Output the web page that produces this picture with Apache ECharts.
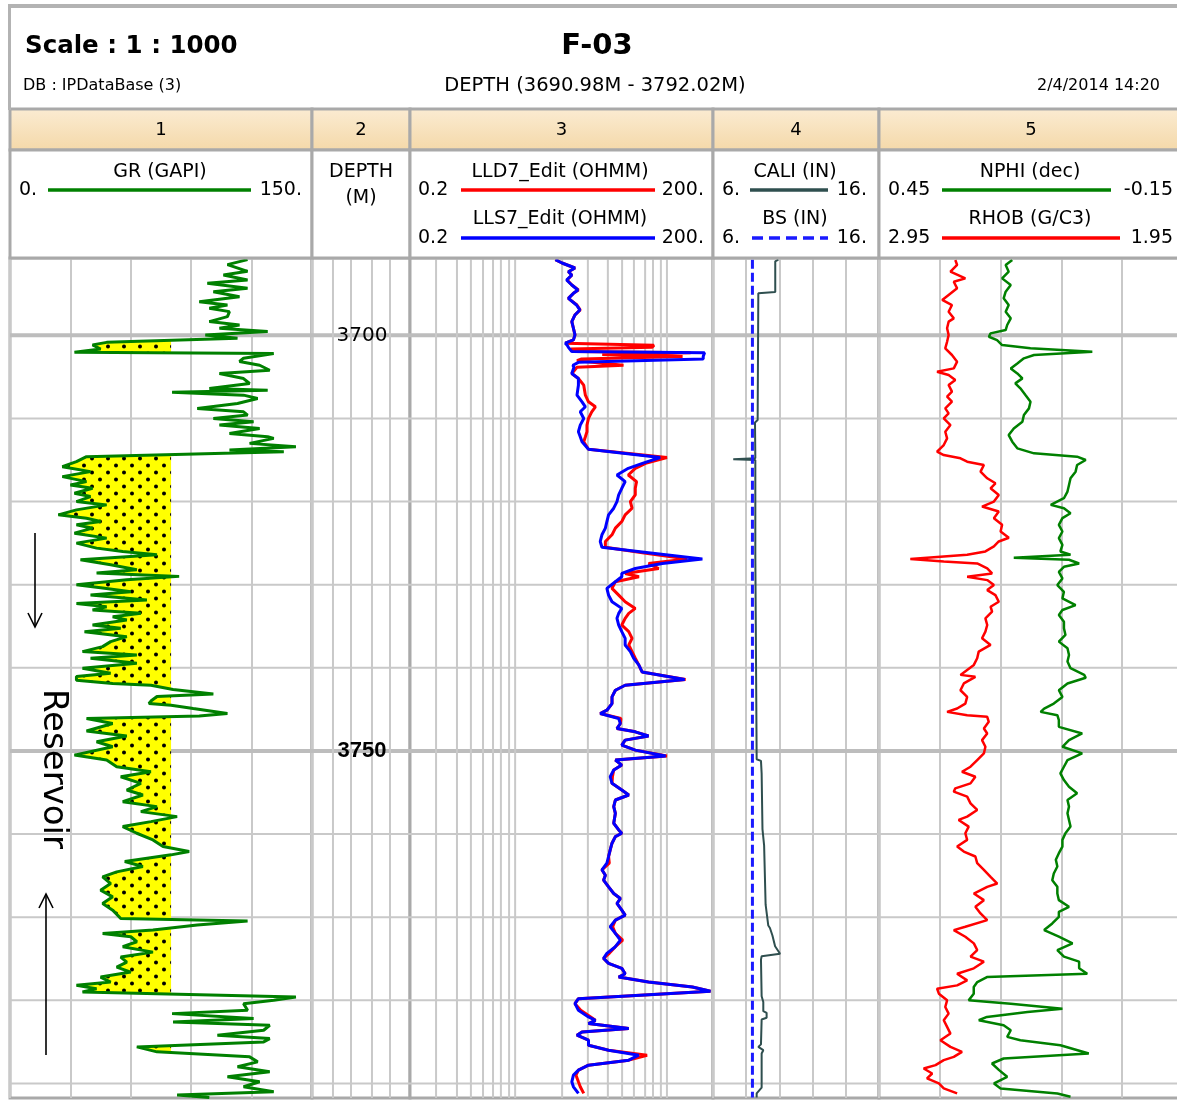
<!DOCTYPE html>
<html>
<head>
<meta charset="utf-8">
<title>F-03</title>
<script src="https://cdn.jsdelivr.net/npm/echarts@6.0.0/dist/echarts.min.js"></script>
<style>
  html, body { margin: 0; padding: 0; background: #fff; }
  #chart { width: 1177px; height: 1100px; }
</style>
</head>
<body>
<div id="chart"></div>
<script>
'use strict';

// ---- depth axis (m) ----
var depthTop = 3690.7;
var depthBottom = 3791.75;
var depthGrid = [3700, 3710, 3720, 3730, 3740, 3750, 3760, 3770, 3780, 3790];
var depthMajor = [3700, 3750];
var depthLabels = [3700, 3750];

// ---- track 1 : GR (GAPI), [depth, value] ----
var grCutoff = 80;
var grLog = [
  [3690.9,118],[3691.5,108],[3692.3,118],[3692.75,106],[3693.35,118],[3693.75,98],[3694.35,118],[3694.75,101],
  [3695.35,114],[3695.95,94],[3696.35,108],[3696.75,99],[3697.15,109],[3697.75,108],[3698.35,99],[3698.75,114],
  [3699.15,104],[3699.55,128],[3699.95,97],[3700.35,113],[3700.85,48],[3701.15,41],[3701.65,45],[3702.05,32],
  [3702.2,131],[3702.75,116],[3703.15,114],[3703.6,124],[3704.2,129],[3704.6,104],[3705.2,116],[3705.8,119],
  [3706.4,99],[3706.6,128],[3706.85,80.5],[3707.2,116],[3707.6,123],[3708.2,113],[3708.8,93],[3709.2,116],
  [3709.6,118],[3710.0,101],[3710.4,121],[3710.8,104],[3711.2,124],[3711.8,109],[3712.2,128],[3712.4,131],
  [3713.0,119],[3713.4,142],[3713.8,109],[3714.0,136],[3714.6,38],[3715.2,33],[3715.8,26],[3716.4,40],
  [3717.0,26],[3717.6,38],[3718.0,30],[3718.4,41],[3719.0,32],[3719.4,40],[3720.0,33],[3720.4,48],
  [3721.0,33],[3721.6,24],[3722.0,38],[3722.4,45],[3722.8,33],[3723.2,41],[3723.8,32],[3724.4,48],
  [3725.0,33],[3725.6,43],[3726.0,56],[3726.4,73],[3727.0,35],[3727.6,50],[3728.2,63],[3728.6,43],
  [3729.0,84],[3729.4,58],[3730.0,33],[3730.4,46],[3730.85,60],[3731.25,40],[3731.85,68],[3732.25,33],
  [3732.65,48],[3733.05,41],[3733.45,65],[3733.85,51],[3734.25,58],[3734.85,41],[3735.25,55],[3735.65,37],
  [3736.25,58],[3736.85,50],[3737.45,46],[3738.05,36],[3738.45,63],[3738.85,40],[3739.45,63],[3740.05,36],
  [3740.65,50],[3741.05,33],[3741.5,33],[3741.9,51],[3742.1,70],[3742.6,81],[3743.15,101],[3743.45,73],
  [3744.0,70],[3744.3,69],[3744.5,80],[3744.9,91],[3745.5,108],[3745.8,94],[3746.1,38],[3746.7,51],
  [3747.6,38],[3748.2,58],[3748.9,43],[3749.5,51],[3750.5,32],[3751.1,48],[3751.9,53],[3752.5,70],
  [3753.1,55],[3753.9,65],[3754.7,58],[3755.3,66],[3756.1,56],[3756.7,73],[3757.3,65],[3757.9,83],
  [3758.5,70],[3759.1,56],[3759.9,63],[3760.7,71],[3761.5,76],[3762.1,89],[3762.5,80],[3763.3,57],
  [3763.9,66],[3764.55,53],[3765.15,46],[3765.95,50],[3766.75,45],[3767.55,51],[3768.35,46],[3769.15,51],
  [3770.15,55],[3770.45,118],[3770.95,93],[3771.55,71],[3771.95,46],[3772.35,60],[3772.95,63],[3773.55,56],
  [3774.2,71],[3774.8,55],[3775.4,58],[3776.0,53],[3776.6,60],[3777.2,45],[3777.8,50],[3778.2,33],
  [3778.6,43],[3779.0,36],[3779.6,142],[3780.0,131],[3780.4,116],[3781.2,118],[3781.6,80.5],[3782.2,121],
  [3782.6,81],[3783.0,129],[3783.6,126],[3784.2,103],[3784.6,129],[3785.0,126],[3785.6,63],[3786.2,73],
  [3786.8,119],[3787.4,123],[3788.0,113],[3788.6,129],[3789.2,108],[3789.8,124],[3790.4,116],[3791.0,131],
  [3791.4,83],[3791.7,99]
];

// ---- track 3 : LLD7_Edit / LLS7_Edit (OHMM), [depth, lld, lls] ----
var resLog = [
  [3690.9,5.5,5.5],[3691.3,6.4,6.4],[3691.9,8.6,8.6],[3692.35,7.4,7.4],[3692.75,8.0,8.0],[3693.35,7.2,7.1],
  [3693.95,8.0,8.0],[3694.55,9.3,9.2],[3694.95,8.3,8.3],[3695.55,7.4,7.4],[3696.35,9.0,8.9],[3696.95,9.7,9.6],
  [3697.55,8.6,8.6],[3698.35,8.0,8.0],[3699.15,8.3,8.3],[3699.95,8.6,8.6],[3700.55,8.3,8.3],[3700.95,6.9,6.9],
  [3701.2,52,7.2],[3701.45,50,7.4],[3701.65,7.8,7.6],[3701.95,8.5,8.0],[3702.1,120,165],[3702.3,16,160],
  [3702.55,100,160],[3702.85,10,160],[3703.05,9.0,160],[3703.25,9.2,9.3],[3703.6,26,8.2],[3703.85,9.0,8.4],
  [3704.0,8.6,8.6],[3704.6,8.0,8.0],[3705.2,9.3,9.3],[3706.0,10.5,9.3],[3707.2,10.9,9.0],[3708.0,11.7,10.1],
  [3708.6,13.7,10.9],[3709.2,12.6,9.7],[3710.0,11.7,10.5],[3710.8,11.3,9.7],[3711.6,11.3,9.3],[3712.2,10.9,9.7],
  [3712.8,10.5,10.1],[3713.7,11.7,11.7],[3714.7,70,60],[3715.4,43,40],[3716.0,34,29],[3716.8,29,22.4],
  [3717.6,35,27],[3718.4,34,25],[3719.2,34,23.3],[3720.0,30.4,22.4],[3720.8,31.6,20.8],[3721.6,27,18.5],
  [3722.4,25,17.8],[3723.2,21.6,17.2],[3724.0,20,15.9],[3724.8,17.2,15.3],[3725.5,17.2,15.9],[3726.15,40,46],
  [3726.9,111,157],[3727.45,46,63],[3728.05,58,34],[3728.65,27,25],[3729.05,37,25],[3729.65,21.6,21.6],
  [3730.45,20,17.8],[3731.25,23.3,18.5],[3732.05,27,20],[3732.85,34,25],[3733.45,29.3,23.3],[3734.05,27,22.4],
  [3734.85,25,23.3],[3735.65,29.3,25],[3736.45,31.6,27],[3737.25,29.3,27],[3738.05,31.6,30.4],[3738.85,34,32.8],
  [3739.65,36.8,36.8],[3740.5,39.7,39.7],[3741.4,107,105],[3742.1,27,27],[3742.7,21.6,21.6],[3743.5,20,20],
  [3744.3,20,20],[3745.1,17.8,17.8],[3745.5,15.3,15.3],[3746.1,24.5,23.3],[3746.7,24.2,24.2],[3747.3,22.4,22.4],
  [3747.7,34,34],[3748.2,46,46],[3748.7,27,27],[3749.3,25,25],[3749.9,34,34],[3750.6,70,68],
  [3751.1,21.6,21.6],[3751.7,25,25],[3752.3,20.8,20.8],[3753.1,20.2,19.2],[3753.9,20,20],[3754.7,25,25],
  [3755.3,29.3,29.3],[3755.9,21.6,21.6],[3756.7,20.8,20.8],[3757.5,21.6,21.6],[3758.7,20.8,20.8],[3759.5,23.3,23.3],
  [3759.9,25,25],[3760.3,21.6,21.6],[3761.1,20,20],[3761.9,19.2,19.2],[3762.7,18.5,18.5],[3763.5,18.8,17.8],
  [3764.3,15.9,15.9],[3764.95,17.2,17.2],[3765.55,16.5,16.5],[3766.35,18.5,18.5],[3767.15,20.8,20.8],[3767.75,24.2,24.2],
  [3768.35,22.4,22.4],[3769.15,25,25],[3769.75,27,27],[3770.35,21.6,21.6],[3771.15,20.3,19.2],[3771.95,21.6,21.6],
  [3772.75,25.5,24.2],[3773.55,21.6,21.6],[3774.35,18.8,17.8],[3774.95,16.5,16.5],[3775.55,18.5,18.5],[3776.15,25,25],
  [3776.8,27,27],[3777.2,23.3,23.3],[3777.8,46,46],[3778.4,125,125],[3778.9,189,189],[3779.8,9.3,9.3],
  [3780.4,8.6,8.6],[3781.2,9.8,9.3],[3782.0,12.3,11.7],[3782.4,13.7,13.7],[3782.8,11.7,11.7],[3783.4,29.3,29.3],
  [3783.8,10.1,10.1],[3784.2,9.0,9.0],[3784.8,11.7,11.7],[3785.4,11.7,11.7],[3786.0,18.5,18.5],[3786.6,44.5,36.8],
  [3787.2,29.3,29.3],[3787.8,11.7,11.7],[3788.4,9.3,9.3],[3789.0,8.8,8.3],[3789.8,9.3,8.0],[3790.4,9.7,8.3],
  [3791.2,10.5,9.3]
];

// ---- track 4 : CALI / BS (IN), [depth, value] ----
var caliLog = [
  [3690.9,9.94],[3691.1,9.75],[3694.8,9.75],[3694.95,8.73],[3710.2,8.69],[3710.5,8.53],[3714.8,8.55],[3714.9,7.22],
  [3715.0,8.55],[3726.5,8.55],[3726.7,8.63],[3751.0,8.63],[3751.2,8.89],[3752.7,8.93],[3759.4,8.98],[3759.6,9.03],
  [3761.4,9.08],[3761.6,9.17],[3768.5,9.17],[3768.7,9.29],[3771.0,9.33],[3771.3,9.43],[3772.2,9.58],[3773.5,9.74],
  [3774.4,10.04],[3774.7,8.93],[3775.1,8.89],[3779.5,8.93],[3780.2,9.03],[3781.3,9.03],[3781.5,9.23],[3782.1,9.23],
  [3782.3,8.93],[3785.3,8.89],[3785.6,8.73],[3786.0,9.03],[3786.4,8.93],[3787.4,8.93],[3790.5,8.93],[3791.2,8.63],
  [3791.7,8.63]
];
var bsLog = [[3690.9,8.375],[3791.7,8.375]];

// ---- track 5 : NPHI (dec) ----
var nphiLog = [
  [3690.94,0.187],[3691.54,0.200],[3692.35,0.194],[3693.15,0.207],[3693.95,0.190],[3694.75,0.200],[3695.55,0.204],
  [3696.36,0.194],[3697.16,0.200],[3697.96,0.190],[3698.76,0.197],[3699.37,0.200],[3699.77,0.230],[3700.17,0.233],
  [3700.57,0.217],[3701.17,0.207],[3701.57,0.151],[3701.97,0.029],[3702.37,0.144],[3702.77,0.164],[3703.38,0.177],
  [3703.98,0.190],[3704.58,0.177],[3705.18,0.167],[3705.78,0.181],[3706.38,0.171],[3707.19,0.161],[3707.99,0.151],
  [3708.79,0.154],[3709.59,0.164],[3710.4,0.167],[3711.2,0.184],[3712.0,0.194],[3712.8,0.187],[3713.6,0.177],
  [3714.2,0.144],[3714.6,0.059],[3715.0,0.042],[3715.6,0.059],[3716.4,0.062],[3717.2,0.072],[3718.0,0.075],
  [3718.8,0.078],[3719.6,0.085],[3720.4,0.111],[3720.8,0.085],[3721.4,0.072],[3722.0,0.088],[3722.8,0.095],
  [3723.6,0.088],[3724.4,0.095],[3725.2,0.088],[3726.0,0.092],[3726.4,0.072],[3726.75,0.184],[3727.0,0.075],
  [3727.45,0.055],[3727.85,0.085],[3728.45,0.095],[3729.25,0.088],[3730.05,0.098],[3730.85,0.085],[3731.65,0.088],
  [3732.45,0.062],[3733.05,0.088],[3733.65,0.095],[3734.45,0.085],[3735.25,0.085],[3736.05,0.082],[3736.85,0.095],
  [3737.65,0.078],[3738.45,0.075],[3739.25,0.078],[3740.05,0.072],[3740.85,0.045],[3741.2,0.042],[3741.88,0.078],
  [3742.7,0.095],[3743.5,0.088],[3744.3,0.105],[3744.9,0.124],[3745.3,0.131],[3745.7,0.098],[3746.3,0.095],
  [3747.1,0.095],[3747.9,0.049],[3748.7,0.075],[3749.5,0.088],[3750.3,0.049],[3751.1,0.078],[3751.9,0.085],
  [3752.7,0.092],[3753.5,0.085],[3754.3,0.075],[3755.1,0.059],[3755.9,0.078],[3756.7,0.075],[3757.5,0.078],
  [3758.3,0.075],[3759.1,0.072],[3759.9,0.082],[3760.7,0.088],[3761.5,0.088],[3762.3,0.095],[3763.1,0.101],
  [3763.9,0.098],[3764.75,0.105],[3765.55,0.108],[3766.35,0.098],[3767.15,0.098],[3767.95,0.095],[3768.75,0.075],
  [3769.35,0.095],[3769.95,0.095],[3770.75,0.108],[3771.55,0.124],[3772.35,0.095],[3773.15,0.068],[3773.95,0.098],
  [3774.75,0.085],[3775.35,0.055],[3776.15,0.055],[3776.8,0.039],[3777.2,0.237],[3777.8,0.256],[3778.4,0.263],
  [3779.2,0.263],[3780.0,0.273],[3780.4,0.190],[3781.0,0.088],[3781.4,0.157],[3782.0,0.237],[3782.4,0.253],
  [3783.0,0.204],[3783.6,0.190],[3784.4,0.197],[3784.8,0.171],[3785.4,0.092],[3786.4,0.036],[3787.0,0.204],
  [3787.6,0.227],[3788.4,0.213],[3789.2,0.197],[3790.0,0.223],[3790.6,0.210],[3791.2,0.098],[3791.6,0.072]
];

// ---- track 5 : RHOB (G/C3) ----
var rhobLog = [
  [3690.94,2.699],[3691.54,2.693],[3692.35,2.715],[3693.15,2.666],[3693.55,2.704],[3694.35,2.693],[3695.15,2.721],
  [3695.75,2.742],[3696.36,2.710],[3697.16,2.721],[3697.96,2.704],[3698.36,2.721],[3699.16,2.726],[3699.97,2.721],
  [3700.77,2.726],[3701.57,2.732],[3702.37,2.710],[3703.17,2.693],[3703.98,2.704],[3704.38,2.759],[3704.78,2.721],
  [3705.38,2.699],[3705.98,2.721],[3706.78,2.710],[3707.39,2.726],[3707.99,2.710],[3708.79,2.732],[3709.39,2.721],
  [3709.99,2.737],[3710.8,2.715],[3711.6,2.732],[3712.4,2.726],[3713.2,2.737],[3714.0,2.759],[3714.4,2.737],
  [3714.8,2.682],[3715.2,2.660],[3715.6,2.605],[3716.4,2.616],[3717.2,2.594],[3717.8,2.567],[3718.4,2.583],
  [3719.2,2.556],[3720.0,2.572],[3720.6,2.611],[3721.2,2.556],[3722.0,2.572],[3722.8,2.545],[3723.6,2.550],
  [3724.35,2.523],[3724.8,2.556],[3725.4,2.572],[3726.0,2.600],[3726.4,2.660],[3726.9,2.847],[3727.2,2.737],
  [3727.45,2.627],[3728.05,2.594],[3728.65,2.578],[3729.05,2.660],[3729.45,2.594],[3730.05,2.572],[3730.65,2.594],
  [3731.25,2.567],[3732.05,2.556],[3732.65,2.583],[3733.25,2.578],[3734.05,2.600],[3734.85,2.594],[3735.65,2.600],
  [3736.45,2.611],[3737.25,2.583],[3738.05,2.622],[3738.85,2.627],[3739.65,2.638],[3740.25,2.660],[3740.85,2.682],
  [3741.08,2.633],[3741.88,2.671],[3742.7,2.682],[3743.5,2.660],[3744.3,2.666],[3744.9,2.693],[3745.3,2.726],
  [3745.7,2.660],[3745.9,2.594],[3746.5,2.589],[3747.3,2.605],[3747.9,2.594],[3748.7,2.611],[3749.5,2.600],
  [3750.3,2.605],[3751.1,2.627],[3751.9,2.649],[3752.5,2.677],[3753.1,2.633],[3753.9,2.649],[3754.5,2.699],
  [3754.9,2.704],[3755.5,2.660],[3756.3,2.649],[3757.1,2.627],[3757.9,2.660],[3758.3,2.688],[3759.1,2.655],
  [3759.9,2.666],[3760.7,2.660],[3761.5,2.693],[3762.1,2.671],[3762.7,2.633],[3763.5,2.627],[3764.3,2.605],
  [3765.15,2.583],[3765.95,2.561],[3766.35,2.594],[3767.15,2.638],[3767.95,2.605],[3768.75,2.633],[3769.55,2.616],
  [3770.35,2.594],[3771.15,2.666],[3771.55,2.704],[3772.35,2.666],[3773.15,2.638],[3773.95,2.627],[3774.75,2.649],
  [3775.35,2.605],[3776.15,2.638],[3776.8,2.693],[3777.6,2.660],[3778.2,2.693],[3778.6,2.759],[3779.2,2.753],
  [3780.0,2.726],[3780.8,2.732],[3781.6,2.721],[3782.4,2.737],[3783.2,2.726],[3784.0,2.715],[3784.8,2.748],
  [3785.6,2.715],[3786.2,2.677],[3786.8,2.704],[3787.2,2.737],[3787.8,2.764],[3788.2,2.803],[3788.8,2.775],
  [3789.4,2.792],[3790.0,2.753],[3790.6,2.737],[3791.2,2.693]
];

// ---- layout / style ----
var PLOT_TOP = 258, PLOT_H = 840;
var tracks = [
  { left: 10, width: 302, title: '1' },
  { left: 312, width: 98, title: '2' },
  { left: 410, width: 303, title: '3' },
  { left: 713, width: 166, title: '4' },
  { left: 879, width: 304, title: '5' }
];
var BORDER = '#a9a9a9';
var GRID_MINOR = '#c9c9c9';
var GRID_MAJOR = '#bdbdbd';
var FONT = 'DejaVu Sans';
// extra vertical rulings (fraction of track width) in the depth and resistivity tracks
var depthTrackRules = [0.214, 0.398, 0.612, 0.796];
var resTrackRules = [0.086, 0.155, 0.201, 0.241, 0.274, 0.300, 0.327, 0.347,
                     0.502, 0.587, 0.653, 0.700, 0.739, 0.776, 0.802, 0.828, 0.848];
var depthLabelFont = [
  { family: FONT, weight: 'normal', size: 20 },
  { family: 'Liberation Sans Narrow, Liberation Sans', weight: 'bold', size: 22 }
];

// dotted sand pattern
var pat = document.createElement('canvas');
pat.width = 16; pat.height = 14;
var pctx = pat.getContext('2d');
pctx.fillStyle = '#ffff00';
pctx.fillRect(0, 0, 16, 14);
pctx.fillStyle = '#000';
[[4, 3.5], [12, 10.5]].forEach(function (p) {
  pctx.beginPath(); pctx.arc(p[0], p[1], 2, 0, Math.PI * 2); pctx.fill();
});

// polygons between GR and the cutoff where GR < cutoff
function sandPolygons(log, cut) {
  var polys = [], cur = null;
  for (var i = 0; i < log.length; i++) {
    var d = log[i][0], v = log[i][1];
    if (i > 0) {
      var pd = log[i - 1][0], pv = log[i - 1][1];
      if ((pv < cut) !== (v < cut)) {
        var cd = pd + (cut - pv) / (v - pv) * (d - pd);
        if (cur) { cur.push([cut, cd]); polys.push(cur); cur = null; }
        else { cur = [[cut, cd]]; }
      }
    }
    if (v < cut) {
      if (!cur) cur = [[cut, d]];
      cur.push([v, d]);
    }
  }
  if (cur) { cur.push([cut, log[log.length - 1][0]]); polys.push(cur); }
  return polys;
}
var sandPolys = sandPolygons(grLog, grCutoff);

function xy(log, col) {
  return log.map(function (r) { return [r[col || 1], r[0]]; });
}

var chart = echarts.init(document.getElementById('chart'), null, { renderer: 'canvas' });

var grids = tracks.map(function (t) {
  return {
    left: t.left, width: t.width, top: PLOT_TOP, height: PLOT_H,
    show: true, borderColor: BORDER, borderWidth: 3, backgroundColor: '#fff',
    containLabel: false, outerBoundsMode: 'none'
  };
});

function hiddenX(gridIndex, extra) {
  var a = {
    gridIndex: gridIndex, type: 'value',
    axisLine: { show: false }, axisTick: { show: false }, axisLabel: { show: false },
    splitLine: { show: false }
  };
  for (var k in extra) a[k] = extra[k];
  return a;
}
var splitStyle = { show: true, lineStyle: { color: GRID_MINOR, width: 2 } };

var xAxes = [
  hiddenX(0, { min: 0, max: 150, interval: 30, splitLine: splitStyle }),                 // 0 GR
  hiddenX(1, { min: 0, max: 1 }),                                                         // 1 depth track
  hiddenX(2, { type: 'log', logBase: 10, min: 0.2, max: 200 }),                           // 2 resistivity
  hiddenX(2, { min: 0, max: 1 }),                                                         // 3 res rulings
  hiddenX(3, { min: 6, max: 16, interval: 2, splitLine: splitStyle }),                   // 4 CALI/BS
  hiddenX(4, { min: -0.15, max: 0.45, inverse: true }),                                   // 5 NPHI
  hiddenX(4, { min: 1.95, max: 2.95, inverse: true, interval: 0.2, splitLine: splitStyle }) // 6 RHOB
];
var yAxes = tracks.map(function (t, i) {
  return {
    gridIndex: i, type: 'value', inverse: true, min: depthTop, max: depthBottom, show: false,
    splitLine: { show: false }
  };
});

function hGridSeries(gi, xi, xRef) {
  return {
    type: 'custom', xAxisIndex: xi, yAxisIndex: gi, silent: true, z: 1,
    data: depthGrid.map(function (d) { return [xRef, d]; }),
    renderItem: function (params, api) {
      var cs = params.coordSys;
      var d = api.value(1);
      var y = api.coord([api.value(0), d])[1];
      var major = depthMajor.indexOf(d) >= 0;
      return {
        type: 'line',
        shape: { x1: cs.x, y1: y, x2: cs.x + cs.width, y2: y },
        style: { stroke: major ? GRID_MAJOR : GRID_MINOR, lineWidth: major ? 4 : 2 }
      };
    }
  };
}
function vGridSeries(gi, xi, fracs) {
  return {
    type: 'custom', xAxisIndex: xi, yAxisIndex: gi, silent: true, z: 1,
    data: fracs.map(function (f) { return [f, depthTop]; }),
    renderItem: function (params, api) {
      var cs = params.coordSys;
      var x = api.coord([api.value(0), api.value(1)])[0];
      return {
        type: 'line',
        shape: { x1: x, y1: cs.y, x2: x, y2: cs.y + cs.height },
        style: { stroke: GRID_MINOR, lineWidth: 2 }
      };
    }
  };
}
function curve(name, xi, gi, data, color, width, dash) {
  return {
    name: name, type: 'line', xAxisIndex: xi, yAxisIndex: gi, data: data,
    showSymbol: false, symbol: 'none', silent: true, z: 5, clip: true,
    lineStyle: { color: color, width: width, type: dash || 'solid' }
  };
}

var series = [
  hGridSeries(0, 0, 0), hGridSeries(1, 1, 0), hGridSeries(2, 3, 0), hGridSeries(3, 4, 6), hGridSeries(4, 6, 2),
  vGridSeries(1, 1, depthTrackRules), vGridSeries(2, 3, resTrackRules),
  {
    type: 'custom', xAxisIndex: 0, yAxisIndex: 0, silent: true, z: 3, clip: true,
    data: sandPolys.map(function (p, i) { return [grCutoff, p[0][1], i]; }),
    renderItem: function (params, api) {
      var poly = sandPolys[params.dataIndex];
      return {
        type: 'polygon',
        shape: { points: poly.map(function (p) { return api.coord(p); }) },
        style: { fill: { image: pat, repeat: 'repeat' }, stroke: null }
      };
    }
  },
  {
    type: 'custom', xAxisIndex: 1, yAxisIndex: 1, silent: true, z: 6,
    data: depthLabels.map(function (d) { return [0.5, d]; }),
    renderItem: function (params, api) {
      var pt = api.coord([api.value(0), api.value(1)]);
      var f = depthLabelFont[params.dataIndex];
      return {
        type: 'text', x: pt[0] + 1, y: pt[1],
        style: {
          text: String(api.value(1)), fill: '#000',
          font: f.weight + ' ' + f.size + 'px ' + f.family,
          align: 'center', verticalAlign: 'middle'
        }
      };
    }
  },
  curve('GR', 0, 0, xy(grLog), '#008000', 3),
  curve('LLD7_Edit', 2, 2, xy(resLog, 1), '#ff0000', 3),
  curve('LLS7_Edit', 2, 2, xy(resLog, 2), '#0000ff', 3),
  curve('CALI', 4, 3, xy(caliLog), '#2f4f4f', 2),
  curve('BS', 4, 3, xy(bsLog), '#1a1aff', 3, [9, 4]),
  curve('NPHI', 5, 4, xy(nphiLog), '#008000', 2.5),
  curve('RHOB', 6, 4, xy(rhobLog), '#ff0000', 2.5)
];

// ---- header and annotations ----
var g = [];
function text(x, y, s, size, opt) {
  opt = opt || {};
  g.push({
    type: 'text', x: x, y: y, z: 100, silent: true, rotation: opt.rotation || 0,
    style: {
      text: s, fill: '#000', align: opt.align || 'center', verticalAlign: 'middle',
      font: (opt.weight || 'normal') + ' ' + size + 'px ' + (opt.family || FONT)
    }
  });
}
function line(x1, y1, x2, y2, color, w, dash) {
  g.push({
    type: 'line', z: 100, silent: true,
    shape: { x1: x1, y1: y1, x2: x2, y2: y2 },
    style: { stroke: color, lineWidth: w, lineDash: dash || null }
  });
}
function poly(points, color, w) {
  g.push({ type: 'polyline', z: 100, silent: true, shape: { points: points },
    style: { stroke: color, lineWidth: w, fill: null } });
}

// outer frame
line(8, 6, 1177, 6, '#b3b3b3', 4);
line(9.5, 4, 9.5, 110, '#b3b3b3', 3);

text(25, 47, 'Scale : 1 : 1000', 24.5, { align: 'left', weight: 'bold' });
text(597, 46, 'F-03', 29, { weight: 'bold' });
text(23, 86, 'DB : IPDataBase (3)', 16, { align: 'left' });
text(595, 86, 'DEPTH (3690.98M - 3792.02M)', 19.5);
text(1160, 86, '2/4/2014 14:20', 16, { align: 'right' });

tracks.forEach(function (t) {
  g.push({
    type: 'rect', z: 90, silent: true,
    shape: { x: t.left, y: 109, width: t.width, height: 41 },
    style: {
      fill: new echarts.graphic.LinearGradient(0, 0, 0, 1, [
        { offset: 0, color: '#fbecd3' }, { offset: 1, color: '#f4d8a8' }
      ]),
      stroke: BORDER, lineWidth: 3
    }
  });
  g.push({
    type: 'rect', z: 90, silent: true,
    shape: { x: t.left, y: 150, width: t.width, height: PLOT_TOP - 150 },
    style: { fill: '#fff', stroke: BORDER, lineWidth: 3 }
  });
  text(t.left + t.width / 2, 130, t.title, 18);
});

var R1 = 190, R2 = 238, L1 = 172, L2 = 219;
// track 1
text(160, L1, 'GR (GAPI)', 19);
text(19, R1, '0.', 19, { align: 'left' });
line(48, R1, 251, R1, '#008000', 3.5);
text(302, R1, '150.', 19, { align: 'right' });
// track 2
text(361, L1, 'DEPTH', 19);
text(361, 198, '(M)', 19);
// track 3
text(560, L1, 'LLD7_Edit (OHMM)', 19);
text(418, R1, '0.2', 19, { align: 'left' });
line(461, R1, 655, R1, '#ff0000', 3.5);
text(704, R1, '200.', 19, { align: 'right' });
text(560, L2, 'LLS7_Edit (OHMM)', 19);
text(418, R2, '0.2', 19, { align: 'left' });
line(461, R2, 655, R2, '#0000ff', 3.5);
text(704, R2, '200.', 19, { align: 'right' });
// track 4
text(795, L1, 'CALI (IN)', 19);
text(722, R1, '6.', 19, { align: 'left' });
line(750, R1, 828, R1, '#2f4f4f', 3.5);
text(867, R1, '16.', 19, { align: 'right' });
text(795, L2, 'BS (IN)', 19);
text(722, R2, '6.', 19, { align: 'left' });
line(752, R2, 828, R2, '#1a1aff', 3.5, [11, 6]);
text(867, R2, '16.', 19, { align: 'right' });
// track 5
text(1030, L1, 'NPHI (dec)', 19);
text(888, R1, '0.45', 19, { align: 'left' });
line(942, R1, 1111, R1, '#008000', 3.5);
text(1173, R1, '-0.15', 19, { align: 'right' });
text(1030, L2, 'RHOB (G/C3)', 19);
text(888, R2, '2.95', 19, { align: 'left' });
line(942, R2, 1120, R2, '#ff0000', 3.5);
text(1173, R2, '1.95', 19, { align: 'right' });

// reservoir annotation
text(53, 769, 'Reservoir', 34, { rotation: -Math.PI / 2 });
line(35, 533, 35, 627, '#000', 1.6);
poly([[28, 613], [35, 627], [42, 613]], '#000', 1.6);
line(46, 1055, 46, 894, '#000', 1.6);
poly([[39, 908], [46, 894], [53, 908]], '#000', 1.6);

chart.setOption({
  backgroundColor: '#fff',
  animation: false,
  grid: grids,
  xAxis: xAxes,
  yAxis: yAxes,
  series: series,
  graphic: g
});

window.addEventListener('resize', function () { chart.resize(); });
</script>
</body>
</html>
